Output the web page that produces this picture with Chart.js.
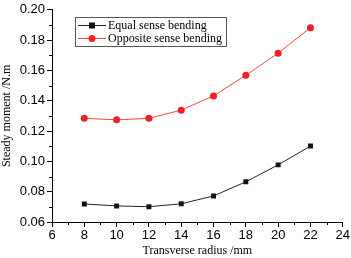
<!DOCTYPE html>
<html>
<head>
<meta charset="utf-8">
<script src="https://cdn.jsdelivr.net/npm/chart.js@4/dist/chart.umd.min.js"></script>
<style>
  html, body { margin: 0; padding: 0; background: #fff; }
  #wrap { width: 351px; height: 258px; }
</style>
</head>
<body>
<div id="wrap"><canvas id="myChart" width="351" height="258"></canvas></div>
<script>
var radius = [8, 10, 12, 14, 16, 18, 20, 22];
var equalSense = [0.0719, 0.0706, 0.0701, 0.0720, 0.0772, 0.0865, 0.0977, 0.1101];
var oppositeSense = [0.1284, 0.1274, 0.1284, 0.1338, 0.1432, 0.1568, 0.1714, 0.1882];
var seriesNames = ['Equal sense bending', 'Opposite sense bending'];

function toPoints(xs, ys) {
    return xs.map(function (x, i) { return { x: x, y: ys[i] }; });
}

// minor ticks + boxed legend, drawn on top
var extras = {
    id: 'extras',
    afterDraw: function (chart) {
        var c = chart.ctx, xs = chart.scales.x, ys = chart.scales.y;
        var area = chart.chartArea;
        c.save();
        c.strokeStyle = '#000';
        c.lineWidth = 1;
        c.beginPath();
        for (var v = 7; v < 24; v += 2) {
            var px = Math.round(xs.getPixelForValue(v)) + 0.5;
            c.moveTo(px, area.bottom); c.lineTo(px, area.bottom + 3);
        }
        for (var w = 0.07; w < 0.2; w += 0.02) {
            var py = Math.round(ys.getPixelForValue(w)) + 0.5;
            c.moveTo(area.left, py); c.lineTo(area.left - 3, py);
        }
        c.stroke();

        // legend
        var lx = 75, ly = 17, lw = 151, lh = 29;
        c.strokeStyle = '#555';
        c.strokeRect(lx + 0.5, ly + 0.5, lw, lh);
        c.font = '12px "Liberation Serif"';
        c.textBaseline = 'middle';
        var ds = chart.data.datasets;
        for (var i = 0; i < ds.length; i++) {
            var yy = ly + 8 + i * 13;
            c.strokeStyle = ds[i].borderColor;
            c.beginPath();
            c.moveTo(lx + 3, yy + 0.5); c.lineTo(lx + 31, yy + 0.5);
            c.stroke();
            c.fillStyle = ds[i].pointBackgroundColor;
            if (i === 0) {
                c.fillRect(lx + 14, yy - 2.5, 6, 6);
            } else {
                c.beginPath();
                c.arc(lx + 17, yy + 0.5, 3.5, 0, Math.PI * 2);
                c.fill();
            }
            c.fillStyle = '#000';
            c.fillText(seriesNames[i], lx + 33, yy + 1);
        }
        c.restore();
    }
};

var ctx = document.getElementById('myChart').getContext('2d');
var myChart = new Chart(ctx, {
    type: 'line',
    data: {
        datasets: [{
            label: seriesNames[0],
            data: toPoints(radius, equalSense),
            borderColor: '#222',
            borderWidth: 1,
            pointStyle: 'rect',
            pointRadius: 3.5,
            pointBackgroundColor: '#111',
            pointBorderColor: '#111',
            pointBorderWidth: 0
        }, {
            label: seriesNames[1],
            data: toPoints(radius, oppositeSense),
            borderColor: '#ff4040',
            borderWidth: 1,
            pointStyle: 'circle',
            pointRadius: 3.5,
            pointBackgroundColor: '#ee2222',
            pointBorderColor: '#ee2222',
            pointBorderWidth: 0
        }]
    },
    options: {
        responsive: false,
        animation: false,
        layout: { padding: { top: 6, right: 6, left: 0, bottom: 0 } },
        plugins: {
            legend: { display: false },
            tooltip: { enabled: false }
        },
        scales: {
            x: {
                type: 'linear',
                min: 6,
                max: 24,
                afterFit: function (s) { s.height = 36; },
                ticks: {
                    stepSize: 2,
                    color: '#000',
                    padding: 1,
                    maxRotation: 0,
                    font: { family: 'Liberation Sans', size: 13 }
                },
                grid: { drawOnChartArea: false, color: '#000', tickLength: 5 },
                border: { color: '#000' },
                title: {
                    display: true,
                    text: 'Transverse radius /mm',
                    color: '#000',
                    padding: 0,
                    font: { family: 'Liberation Serif', size: 12 }
                }
            },
            y: {
                min: 0.06,
                max: 0.20,
                afterFit: function (s) { s.width = 52; },
                ticks: {
                    stepSize: 0.02,
                    color: '#000',
                    padding: 2,
                    font: { family: 'Liberation Sans', size: 13 },
                    callback: function (v) { return v.toFixed(2); }
                },
                grid: { drawOnChartArea: false, color: '#000', tickLength: 5 },
                border: { color: '#000' },
                title: {
                    display: true,
                    text: 'Steady moment /N.m',
                    color: '#000',
                    padding: 0,
                    font: { family: 'Liberation Serif', size: 12 }
                }
            }
        }
    },
    plugins: [extras]
});
</script>
</body>
</html>
